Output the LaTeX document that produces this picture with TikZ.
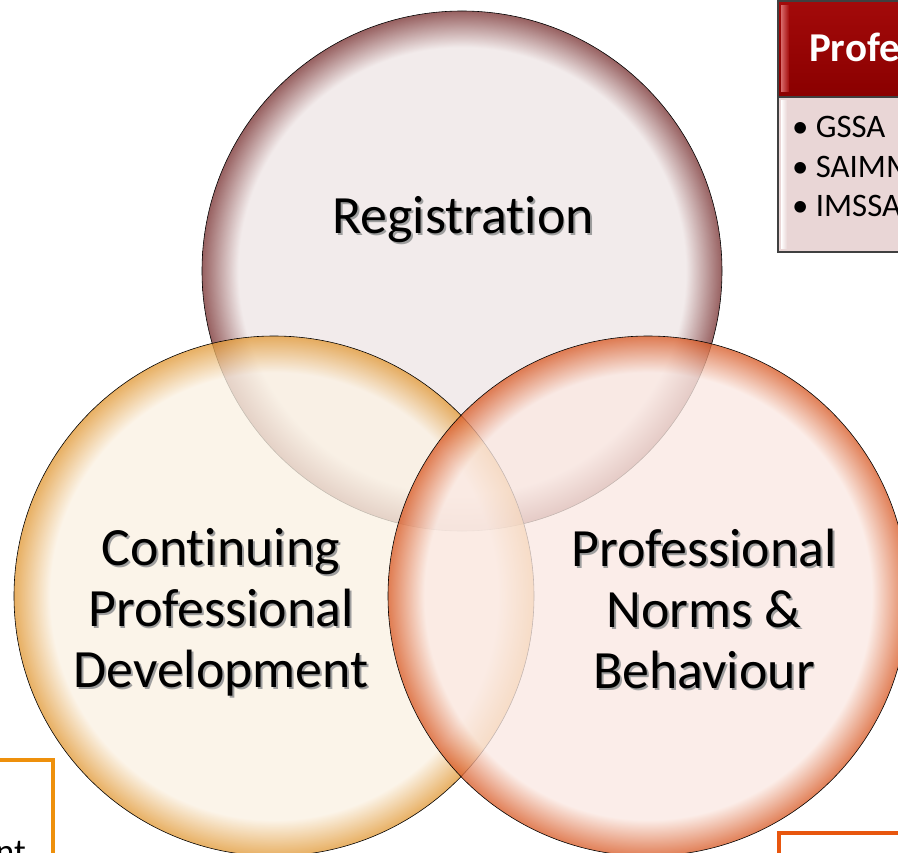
\documentclass[tikz,border=0pt]{standalone}
\usepackage{fontspec}
\setmainfont{Carlito}[Ligatures=NoCommon]
\usepackage{tikz}

\definecolor{regin}{HTML}{EFE6E6}
\definecolor{regout}{HTML}{7B3535}
\definecolor{cpdin}{HTML}{FBF2E4}
\definecolor{cpdout}{HTML}{E29A38}
\definecolor{normin}{HTML}{FBE9E3}
\definecolor{normout}{HTML}{D95C28}
\definecolor{hdred}{HTML}{A30A0A}
\definecolor{hddark}{HTML}{8A0000}
\definecolor{hdlight}{HTML}{D86A6A}
\definecolor{bodypink}{HTML}{E9D6D6}
\definecolor{boxgray}{HTML}{404040}
\definecolor{cpdframe}{HTML}{EE900C}
\definecolor{normframe}{HTML}{E8560E}

\pgfdeclareradialshading{regshade}{\pgfpoint{0bp}{0bp}}{color(0bp)=(regin); color(21.5bp)=(regin); color(25bp)=(regout); color(50bp)=(regout)}
\pgfdeclareradialshading{cpdshade}{\pgfpoint{0bp}{0bp}}{color(0bp)=(cpdin); color(21.5bp)=(cpdin); color(25bp)=(cpdout); color(50bp)=(cpdout)}
\pgfdeclareradialshading{normshade}{\pgfpoint{0bp}{0bp}}{color(0bp)=(normin); color(21.5bp)=(normin); color(25bp)=(normout); color(50bp)=(normout)}

% text with a soft shadow under it
\newcommand{\shtext}[1]{\rlap{\hspace{1.6pt}\raisebox{-1.6pt}{\textcolor{black!38}{#1}}}#1}

\tikzset{
  ring/.style={circle, draw=black, line width=0.5pt, inner sep=0pt, minimum size=156mm, fill opacity=0.78},
  lbl/.style={font=\fontsize{46}{52}\selectfont, align=center, text=black},
  bullet/.style={font=\fontsize{28}{32}\selectfont, anchor=base west, text=black},
}

\begin{document}
\begin{tikzpicture}[x=0.3mm, y=-0.3mm]
	\useasboundingbox (0,0) rectangle (898,853);
	\clip (0,0) rectangle (898,853);
	\fill[white] (0,0) rectangle (898,853);

	% the three circles
	\node[ring, shading=regshade] (reg) at (462,271) {};
	\node[ring, shading=cpdshade] (cpd) at (274,596) {};
	\node[ring, shading=normshade] (norms) at (648,596) {};

	% labels
	\node[lbl] (regl) at (463,221) {\shtext{Registration}};
	\node[lbl] (cpdl) at (221,613) {\shtext{Continuing}\\\shtext{Professional}\\\shtext{Development}};
	\node[lbl] (normsl) at (704,610) {\shtext{Professional}\\\shtext{Norms \&}\\\shtext{Behaviour}};

	% box at the top right
	\shade[top color=hdred, bottom color=hddark] (778,1) rectangle (915,97);
	\shade[left color=hdlight, right color=hdred] (781,6) rectangle (789,92);
	\draw[boxgray, line width=0.9pt] (778,1) rectangle (915,97);
	\node[font=\fontsize{35}{38}\selectfont\bfseries, text=white, anchor=base west] (hdr) at (805,62) {Profe};
	\fill[bodypink] (778,97) rectangle (915,252);
	\shade[left color=white, right color=bodypink] (781,101) rectangle (787,248);
	\draw[boxgray, line width=0.9pt] (778,97) rectangle (915,252);
	\node[bullet] (gssa) at (788,137) {\textbullet\ GSSA};
	\node[bullet] (saimm) at (788,177) {\textbullet\ SAIMM};
	\node[bullet] (imssa) at (788,216) {\textbullet\ IMSSA};

	% frames at the bottom
	\draw[cpdframe, line width=2.6pt] (-20,760) rectangle (53,920);
	\node[font=\fontsize{30}{34}\selectfont, anchor=base east] (cpdtxt) at (30,863) {ent};
	\draw[normframe, line width=2.6pt] (779,833) rectangle (960,960);
\end{tikzpicture}
\end{document}
